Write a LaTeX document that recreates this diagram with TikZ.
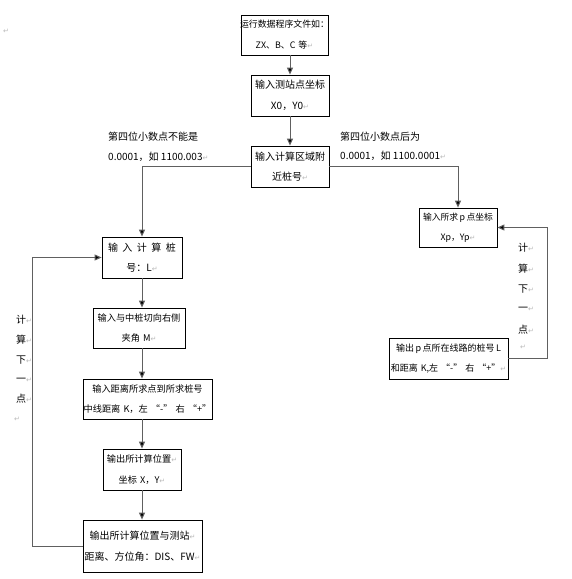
\documentclass[tikz,border=0pt]{standalone}
\usepackage{fontspec}
\setmainfont{Noto Sans CJK SC}
\newfontfamily\dvfont{DejaVu Sans}
\usetikzlibrary{arrows.meta}
\newcommand\retmark{{\dvfont\color{gray!55}\fontsize{7}{7}\selectfont ↵}}
\newcommand\fl[1]{\makebox[\linewidth]{#1}}
\tikzset{
  box/.style={draw=black, line width=0.8pt, rectangle, inner sep=0pt, text width=#1,
    minimum width=#1, font=\fontsize{10}{20.5}\selectfont},
  tight/.style={font=\fontsize{9.2}{20.5}\selectfont},
  conn/.style={draw=gray!75!black, line width=1pt, -{Triangle[length=7pt,width=6pt,fill=black]}},
  lbl/.style={font=\fontsize{10}{20}\selectfont, anchor=west, inner sep=0pt},
  side/.style={font=\fontsize{10}{10}\selectfont, inner sep=0pt}
}
\begin{document}
\begin{tikzpicture}[x=1pt,y=-1pt]
\useasboundingbox (0,0) rectangle (572,579);
\fill[white] (0,0) rectangle (572,579);
\node[inner sep=0pt] (tl) at (6,31) {\retmark};
% boxes
\node[box=87pt, minimum height=40pt, font=\fontsize{8.9}{21}\selectfont] (b1) at (284.5,35) {\fl{运行数据程序文件如：}\\\fl{ZX、B、C 等\retmark}};
\node[box=78pt, minimum height=41pt] (b2) at (290,95.5) {\fl{输入测站点坐标}\\\fl{X0，Y0\retmark}};
\node[box=78pt, minimum height=41pt] (b3) at (290,166.5) {\fl{输入计算区域附}\\\fl{近桩号\retmark}};
\node[box=80pt, minimum height=41pt] (b4) at (142,257.5) {\fl{输\hspace{4.5pt}入\hspace{4.5pt}计\hspace{4.5pt}算\hspace{4.5pt}桩}\\\fl{号：L\retmark}};
\node[box=78pt, minimum height=39pt, font=\fontsize{8.8}{20}\selectfont] (b5) at (458,227.5) {\fl{输入所求\,p\,点坐标}\\\fl{Xp，Yp\retmark}};
\node[box=119pt, minimum height=41pt, font=\fontsize{9}{20.5}\selectfont] (b6) at (448.5,358.5) {\fl{输出\,p\,点所在线路的桩号\,L}\\\fl{和距离 K,左 “-” 右 “+”\retmark}};
\node[box=92pt, minimum height=40pt, tight] (b7) at (139,328) {\fl{输入与中桩切向右侧}\\\fl{夹角 M\retmark}};
\node[box=129pt, minimum height=40pt, tight] (b8) at (147.5,399) {\fl{输入距离所求点到所求桩号}\\\fl{中线距离 K，左 “-” 右 “+”}};
\node[box=78pt, minimum height=41pt, tight] (b9) at (142,469.5) {\fl{输出所计算位置\retmark}\\\fl{坐标 X，Y\retmark}};
\node[box=119pt, minimum height=52pt] (b10) at (142.5,546) {\fl{输出所计算位置与测站\retmark}\\\fl{距离、方位角：DIS、FW\retmark}};
% edge labels
\node[lbl] (l1) at (108,137) {第四位小数点不能是};
\node[lbl] (l2) at (108,157) {0.0001，如 1100.003\retmark};
\node[lbl] (r1) at (340,137) {第四位小数点后为};
\node[lbl] (r2) at (340,156) {0.0001，如 1100.0001\retmark};
% side labels left
\node[side] (s1) at (24,320) {计\retmark};
\node[side] (s2) at (24,340) {算\retmark};
\node[side] (s3) at (24,360) {下\retmark};
\node[side] (s4) at (24,380) {一\retmark};
\node[side] (s5) at (24,399) {点\retmark};
\node[side] (s6) at (17,419) {\retmark};
% side labels right
\node[side] (t1) at (526,248) {计\retmark};
\node[side] (t2) at (526,269) {算\retmark};
\node[side] (t3) at (526,289) {下\retmark};
\node[side] (t4) at (526,309) {一\retmark};
\node[side] (t5) at (526,330) {点\retmark};
\node[side] (t6) at (523,347) {\retmark};
% connectors
\coordinate (lc) at (32,0);
\coordinate (rc) at (547,0);
\draw[conn] (b1.south -| b2.north) -- (b2.north);
\draw[conn] (b2.south) -- (b3.north);
\draw[conn] (b3.west) -| (b4.north);
\draw[conn] (b3.east) -| (b5.north);
\draw[conn] (b4.south) -- (b4.south |- b7.north);
\draw[conn] (b7.south -| b4.south) -- (b8.north -| b4.south);
\draw[conn] (b8.south -| b4.south) -- (b9.north);
\draw[conn] (b9.south) -- (b10.north -| b9.south);
\draw[conn] (b10.west) -- (b10.west -| lc) -- (b4.west -| lc) -- (b4.west);
\draw[conn] (b6.east) -- (b6.east -| rc) -- (b5.east -| rc) -- (b5.east);
\end{tikzpicture}
\end{document}
